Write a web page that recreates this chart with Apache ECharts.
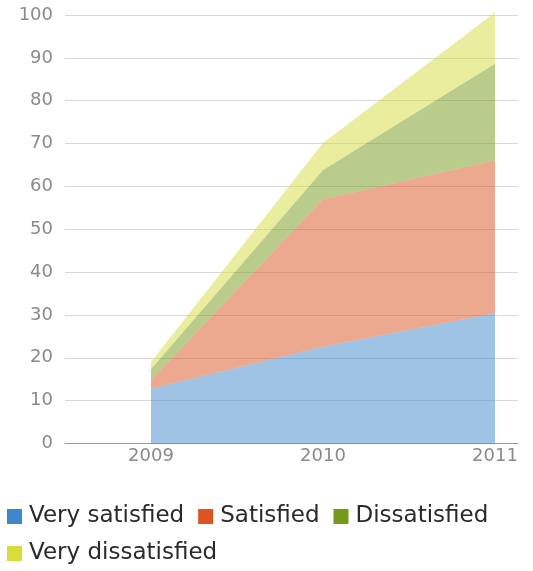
<!DOCTYPE html>
<html>
<head>
<meta charset="utf-8">
<script src="https://cdn.jsdelivr.net/npm/echarts@6/dist/echarts.min.js"></script>
<style>
html,body{margin:0;padding:0;background:#fff;}
#chart{width:533px;height:571px;}
</style>
</head>
<body>
<div id="chart"></div>
<script>
var years = [2009, 2010, 2011];
var seriesNames = ['Very satisfied', 'Satisfied', 'Dissatisfied', 'Very dissatisfied'];
var verySatisfied = [12.8, 22.6, 30.4];
var satisfied = [2.0, 34.4, 35.7];
var dissatisfied = [2.5, 6.8, 22.5];
var veryDissatisfied = [1.7, 6.3, 12.0];
var yTicks = [0, 10, 20, 30, 40, 50, 60, 70, 80, 90, 100];

var colors = ['#3f87cc', '#dc5420', '#759a1a', '#d5dc3c'];
var values = [verySatisfied, satisfied, dissatisfied, veryDissatisfied];

var chart = echarts.init(document.getElementById('chart'), null, {renderer: 'canvas'});
var series = seriesNames.map(function (name, i) {
  return {
    name: name,
    type: 'line',
    stack: 'total',
    symbol: 'none',
    clip: false,
    encode: {x: 1, y: 0},
    lineStyle: {width: 0, opacity: 0},
    itemStyle: {color: colors[i]},
    areaStyle: {color: colors[i], opacity: 0.5},
    data: years.map(function (y, j) { return [values[i][j], y]; })
  };
});

chart.setOption({
  animation: false,
  textStyle: {fontFamily: 'DejaVu Sans'},
  grid: {left: 65, right: 15, top: 15, bottom: 127.5},
  xAxis: {
    type: 'value',
    min: 2008.5,
    max: 2008.5 + 453 / 172,
    axisLine: {show: true, lineStyle: {color: '#999999', width: 1}},
    axisTick: {show: false},
    splitLine: {show: false},
    axisLabel: {
      customValues: years,
      color: '#8a8a8a',
      fontSize: 18,
      margin: 4,
      fontFamily: 'DejaVu Sans',
      formatter: function (v) { return String(v); }
    }
  },
  yAxis: {
    type: 'value',
    min: yTicks[0],
    max: yTicks[yTicks.length - 1],
    interval: 10,
    axisLine: {show: false},
    axisTick: {show: false},
    splitLine: {lineStyle: {color: '#d8d8d8', width: 1}},
    axisLabel: {color: '#8a8a8a', fontSize: 18, margin: 12, fontFamily: 'DejaVu Sans'}
  },
  legend: {
    left: 7,
    top: 505,
    padding: 0,
    width: 520,
    itemWidth: 15,
    itemHeight: 15,
    itemGap: 14,
    icon: 'rect',
    textStyle: {fontSize: 23, color: '#2a2a2a', fontFamily: 'DejaVu Sans', padding: [0, 0, 0, 2]},
    data: seriesNames.map(function (n, i) { return {name: n, itemStyle: {color: colors[i], opacity: 1}}; })
  },
  series: series
});
</script>
</body>
</html>
